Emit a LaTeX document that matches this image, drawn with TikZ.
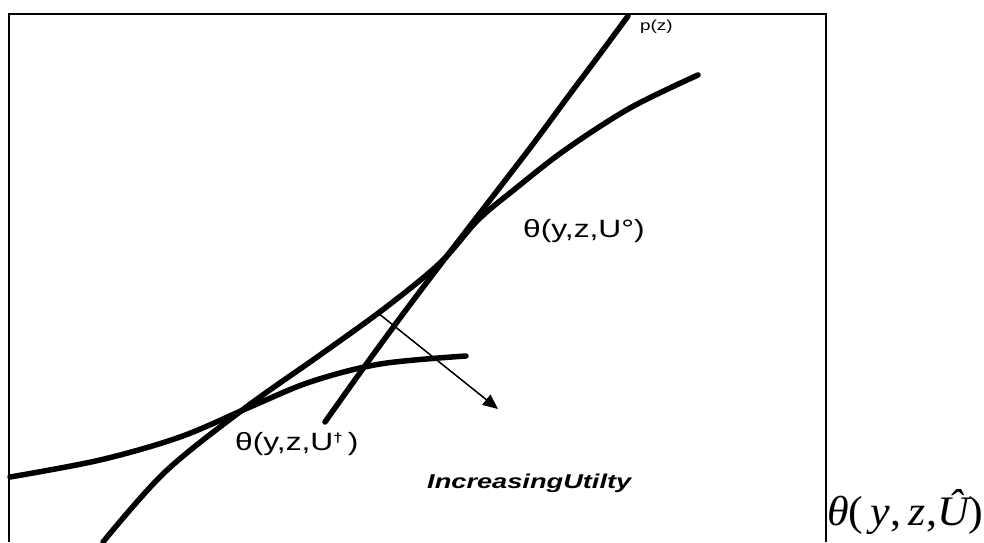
\documentclass[tikz,border=0pt]{standalone}
\usepackage{fontspec}
\usepackage{graphicx}
\setmainfont{Liberation Sans}
\newfontfamily\serifit{Liberation Serif}
\usetikzlibrary{arrows.meta}
\begin{document}
\begin{tikzpicture}[x=1pt,y=-1pt,
  curve/.style={line width=5.5pt,line cap=round,line join=round},
  frame/.style={line width=2.6pt},
  lbl/.style={inner sep=0pt,anchor=base west}]
\useasboundingbox (0,0) rectangle (984,542);
\fill[white] (0,0) rectangle (984,542);
\draw[frame] (9,542) -- (9,14) -- (826,14) -- (826,542);
% upper indifference curve
\draw[curve] plot[smooth,tension=0.55] coordinates {(103,542) (165,472) (245,408) (320,355) (385,308) (440,263) (478,220) (515,189) (565,150) (630,108) (698,75)};
% lower indifference curve
\draw[curve] plot[smooth,tension=0.55] coordinates {(10,477) (100,460) (180,437) (250,407) (310,382) (380,364) (466,356)};
% p(z)
\draw[curve] plot[smooth,tension=0.55] coordinates {(325,422) (362,370) (400,318) (440,265) (480,213) (530,148) (570,94) (600,54) (628,16)};
% arrow
\coordinate (a1) at (378,313);
\coordinate (a2) at (498,409);
\draw[line width=1.5pt,-{Triangle[length=15pt,width=13pt]}] (a1) -- (a2);
% labels
\node[lbl,font=\fontsize{14.5}{15}\selectfont] (pz) at (640,30) {\scalebox{1.3}[1]{p(z)}};
\node[lbl,font=\fontsize{25}{28}\selectfont] (u0) at (523,237) {\scalebox{1.27}[1]{θ(y,z,U°)}};
\node[lbl,font=\fontsize{25}{28}\selectfont] (u1) at (235,450) {\scalebox{1.27}[1]{θ(y,z,U\raisebox{0.6ex}{\fontsize{13}{13}\selectfont\bfseries †}\,)}};
\node[lbl,font=\fontsize{20}{22}\selectfont\bfseries\itshape] (inc) at (427,488) {\scalebox{1.36}[1]{IncreasingUtilty}};
\node[lbl,font=\fontsize{42}{44}\selectfont\serifit] (th) at (827,525) {\scalebox{1.05}[1]{\itshape θ\upshape(\,\itshape y\upshape,\,\itshape z\upshape,\itshape Û\upshape)}};
\end{tikzpicture}
\end{document}
